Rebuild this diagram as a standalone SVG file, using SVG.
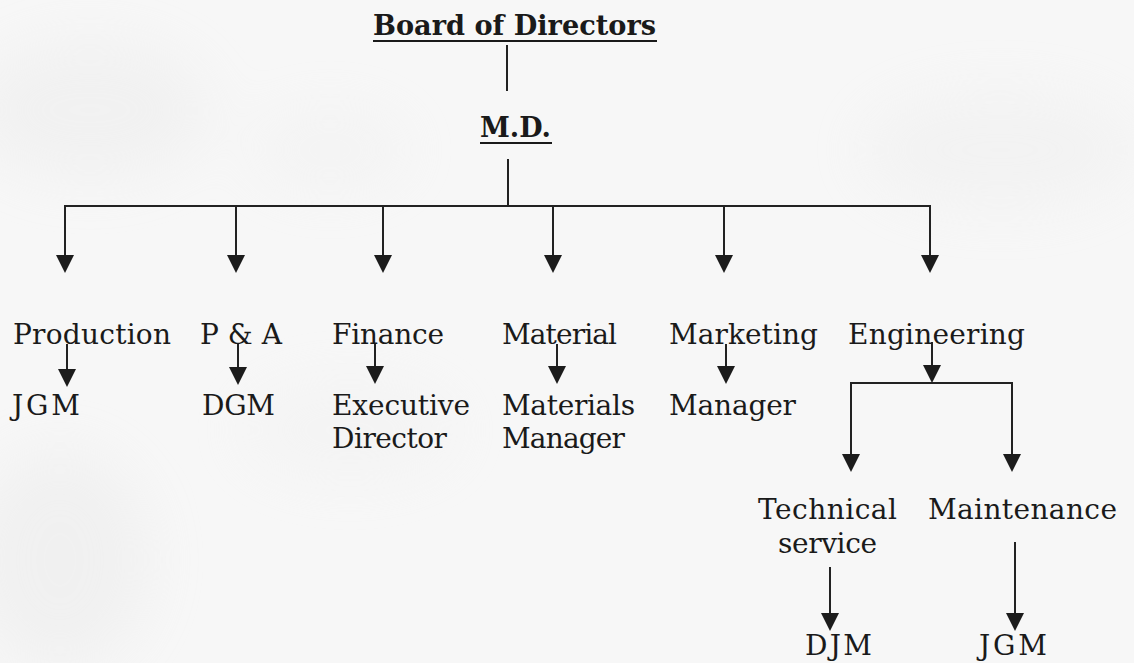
<svg xmlns="http://www.w3.org/2000/svg" width="1134" height="663" viewBox="0 0 1134 663">
  <defs>
    <marker id="arrow" markerUnits="userSpaceOnUse" markerWidth="18" markerHeight="18" refX="15" refY="9" orient="auto">
      <path d="M0,0 L18,9 L0,18 z" fill="#1c1c1c"/>
    </marker>
    <filter id="soft" x="-20%" y="-20%" width="140%" height="140%">
      <feGaussianBlur stdDeviation="30"/>
    </filter>
  </defs>
  <style>
    .lbl { font-family: "DejaVu Serif", "Liberation Serif", serif; font-size: 28px; fill: #1a1a1a; }
    .head { font-family: "DejaVu Serif", "Liberation Serif", serif; font-size: 27px; font-weight: bold; fill: #1a1a1a; }
    .ul { stroke: #1a1a1a; stroke-width: 2; }
    .wire { stroke: #222; stroke-width: 2; fill: none; }
    .arr { stroke: #222; stroke-width: 2; fill: none; marker-end: url(#arrow); }
  </style>

  <!-- paper background -->
  <rect x="0" y="0" width="1134" height="663" fill="#f7f7f7"/>
  <g filter="url(#soft)" opacity="0.35">
    <ellipse cx="90" cy="110" rx="120" ry="70" fill="#e6e6e6"/>
    <ellipse cx="330" cy="150" rx="80" ry="40" fill="#ececec"/>
    <ellipse cx="1000" cy="150" rx="140" ry="60" fill="#eaeaea"/>
    <ellipse cx="60" cy="560" rx="90" ry="110" fill="#e4e4e4"/>
    <ellipse cx="350" cy="430" rx="110" ry="50" fill="#eeeeee"/>
  </g>

  <!-- connectors -->
  <g id="connectors">
    <line class="wire" x1="507" y1="45" x2="507" y2="91"/>
    <line class="wire" x1="508" y1="159" x2="508" y2="206"/>
    <line class="wire" x1="64" y1="206" x2="931" y2="206"/>
    <line class="arr" x1="65" y1="206" x2="65" y2="270"/>
    <line class="arr" x1="236" y1="206" x2="236" y2="270"/>
    <line class="arr" x1="383" y1="206" x2="383" y2="270"/>
    <line class="arr" x1="553" y1="206" x2="553" y2="270"/>
    <line class="arr" x1="724" y1="206" x2="724" y2="270"/>
    <line class="arr" x1="930" y1="206" x2="930" y2="270"/>

    <line class="arr" x1="67" y1="344" x2="67" y2="384"/>
    <line class="arr" x1="238" y1="344" x2="238" y2="382"/>
    <line class="arr" x1="375" y1="344" x2="375" y2="381"/>
    <line class="arr" x1="557" y1="344" x2="557" y2="381"/>
    <line class="arr" x1="726" y1="344" x2="726" y2="381"/>

    <line class="arr" x1="932" y1="342" x2="932" y2="380"/>
    <polyline class="wire" points="851,469 851,383 1012,383 1012,469"/>
    <line class="arr" x1="851" y1="440" x2="851" y2="469"/>
    <line class="arr" x1="1012" y1="440" x2="1012" y2="469"/>

    <line class="arr" x1="830" y1="567" x2="830" y2="628"/>
    <line class="arr" x1="1015" y1="542" x2="1015" y2="628"/>
  </g>

  <!-- nodes -->
  <g id="board">
    <text class="head" x="373" y="35" textLength="283" lengthAdjust="spacingAndGlyphs">Board of Directors</text>
    <line class="ul" x1="373" y1="41" x2="657" y2="41"/>
  </g>
  <g id="md">
    <text class="head" x="480" y="137" textLength="71" lengthAdjust="spacingAndGlyphs">M.D.</text>
    <line class="ul" x1="480" y1="143" x2="552" y2="143"/>
  </g>
  <g id="production">
    <text class="lbl" x="13" y="344" textLength="158">Production</text>
  </g>
  <g id="pa">
    <text class="lbl" x="200" y="344" textLength="82">P &amp; A</text>
  </g>
  <g id="finance">
    <text class="lbl" x="332" y="344" textLength="112">Finance</text>
  </g>
  <g id="material">
    <text class="lbl" x="502" y="344" textLength="115">Material</text>
  </g>
  <g id="marketing">
    <text class="lbl" x="669" y="344" textLength="149">Marketing</text>
  </g>
  <g id="engineering">
    <text class="lbl" x="848" y="344" textLength="177">Engineering</text>
  </g>
  <g id="production-jgm">
    <text class="lbl" x="12" y="415" textLength="68">JGM</text>
  </g>
  <g id="pa-dgm">
    <text class="lbl" x="202" y="415" textLength="73">DGM</text>
  </g>
  <g id="executive-director">
    <text class="lbl" x="332" y="415" textLength="138">Executive</text>
    <text class="lbl" x="332" y="448" textLength="115">Director</text>
  </g>
  <g id="materials-manager">
    <text class="lbl" x="502" y="415" textLength="133">Materials</text>
    <text class="lbl" x="502" y="448" textLength="123">Manager</text>
  </g>
  <g id="marketing-manager">
    <text class="lbl" x="669" y="415" textLength="127">Manager</text>
  </g>
  <g id="technical-service">
    <text class="lbl" x="758" y="519" textLength="139">Technical</text>
    <text class="lbl" x="778" y="553" textLength="99">service</text>
  </g>
  <g id="maintenance">
    <text class="lbl" x="928" y="519" textLength="189">Maintenance</text>
  </g>
  <g id="technical-djm">
    <text class="lbl" x="805" y="655" textLength="67">DJM</text>
  </g>
  <g id="maintenance-jgm">
    <text class="lbl" x="979" y="655" textLength="68">JGM</text>
  </g>
</svg>
